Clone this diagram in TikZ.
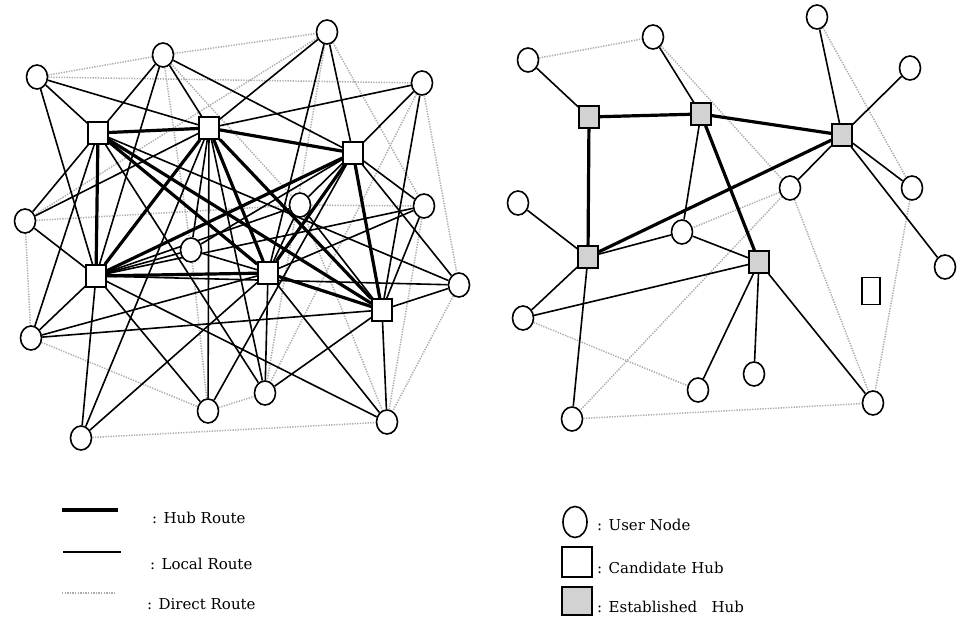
\documentclass[tikz,border=0pt]{standalone}
\usepackage{fontspec}
\setmainfont{DejaVu Serif}
\usetikzlibrary{shapes.geometric,backgrounds}
\begin{document}
\begin{tikzpicture}[x=1pt,y=-1pt,
  user/.style={ellipse, draw, line width=1.6pt, fill=white, minimum width=21pt, minimum height=24pt, inner sep=0pt},
  cand/.style={rectangle, draw, line width=1.6pt, fill=white, minimum width=20pt, minimum height=22pt, inner sep=0pt},
  estab/.style={cand, fill=gray!35},
  hubroute/.style={line width=3.2pt},
  localroute/.style={line width=1.6pt},
  directroute/.style={line width=1.5pt, gray!65, dash pattern=on 1.3pt off 1.3pt},
  lbl/.style={anchor=west, inner sep=0pt, font=\fontsize{15}{18}\selectfont}]
\useasboundingbox (0,0) rectangle (961,621);

% ---------- left network ----------
\node[user] (c1) at (37,77) {};
\node[user] (c2) at (163,55) {};
\node[user] (c3) at (327,32) {};
\node[user] (c4) at (422,83) {};
\node[user] (c5) at (25,221) {};
\node[user] (c6) at (300,205) {};
\node[user] (c7) at (424,206) {};
\node[user] (c8) at (191,250) {};
\node[user] (c9) at (459,285) {};
\node[user] (c10) at (31,338) {};
\node[user] (c11) at (208,411) {};
\node[user] (c12) at (265,393) {};
\node[user] (c13) at (81,438) {};
\node[user] (c14) at (387,422) {};
\node[cand] (s1) at (98,133) {};
\node[cand] (s2) at (209,128) {};
\node[cand] (s3) at (353,153) {};
\node[cand] (s4) at (96,276) {};
\node[cand] (s5) at (268,273) {};
\node[cand] (s6) at (382,310) {};

% ---------- right network ----------
\node[user] (r1) at (528,60) {};
\node[user] (r2) at (653,37) {};
\node[user] (r3) at (817,17) {};
\node[user] (r4) at (910,68) {};
\node[user] (r5) at (518,203) {};
\node[user] (r6) at (790,188) {};
\node[user] (r7) at (912,188) {};
\node[user] (r8) at (682,232) {};
\node[user] (r9) at (945,267) {};
\node[user] (r10) at (523,318) {};
\node[user] (r11) at (698,390) {};
\node[user] (r12) at (754,374) {};
\node[user] (r13) at (572,419) {};
\node[user] (r14) at (873,403) {};
\node[estab] (g1) at (589,117) {};
\node[estab] (g2) at (701,114) {};
\node[estab] (g3) at (842,135) {};
\node[estab] (g4) at (588,257) {};
\node[estab] (g5) at (759,262) {};
\node[cand, minimum width=18pt, minimum height=27pt] (w1) at (871,291) {};

\begin{pgfonlayer}{background}
% left: direct routes
\foreach \a/\b in {c1/c2,c1/c4,c2/c3,c2/c8,c2/c6,c3/c5,c3/c7,c3/c12,c4/c9,c4/c12,c5/c6,c6/c7,c5/c10,c10/c11,c8/c11,c11/c12,c13/c14,c9/c14,c7/c14,c6/c14}
  \draw[directroute] (\a) -- (\b);
% left: local routes
\foreach \a/\b in {c1/s1,c1/s2,c1/s4,
  c2/s1,c2/s2,c2/s3,c2/s4,
  c3/s2,c3/s3,c3/s5,
  c4/s2,c4/s3,c4/s6,
  c5/s1,c5/s2,c5/s4,
  c6/s3,c6/s4,c6/s5,c6/s6,
  c7/s3,c7/s4,c7/s5,c7/s6,
  c8/s2,c8/s3,c8/s4,c8/s5,
  c9/s1,c9/s3,c9/s4,c9/s6,
  c10/s1,c10/s4,c10/s5,c10/s6,
  c11/s2,c11/s3,c11/s4,
  c12/s1,c12/s2,c12/s5,c12/s6,
  c13/s2,c13/s4,c13/s5,
  c14/s4,c14/s5,c14/s6}
  \draw[localroute] (\a) -- (\b);
% left: hub routes
\foreach \a/\b in {s1/s2,s2/s3,s1/s4,s1/s5,s1/s6,s2/s4,s2/s5,s2/s6,s3/s4,s3/s5,s3/s6,s4/s5,s5/s6}
  \draw[hubroute] (\a) -- (\b);

% right: direct routes
\foreach \a/\b in {r1/r2,r2/r6,r3/r7,r6/r8,r6/r13,r6/r14,r7/r14,r13/r14,r10/r11}
  \draw[directroute] (\a) -- (\b);
% right: local routes
\foreach \a/\b in {r1/g1,r2/g2,g2/r8,r3/g3,r4/g3,g3/r6,g3/r7,g3/r9,r5/g4,g4/r8,g4/r10,g4/r13,r10/g5,r8/g5,g5/r11,g5/r12,g5/r14}
  \draw[localroute] (\a) -- (\b);
% right: hub routes
\foreach \a/\b in {g1/g2,g2/g3,g1/g4,g4/g3,g2/g5}
  \draw[hubroute] (\a) -- (\b);
\end{pgfonlayer}

% ---------- legend ----------
\coordinate (h1) at (62,510); \coordinate (h2) at (118,510);
\coordinate (l1) at (63,552); \coordinate (l2) at (121,552);
\coordinate (d1) at (62,593); \coordinate (d2) at (116,593);
\draw[hubroute] (h1) -- (h2);
\draw[localroute] (l1) -- (l2);
\draw[directroute] (d1) -- (d2);
\node[lbl] (th) at (152,518) {: Hub Route};
\node[lbl] (tl) at (150,564) {: Local Route};
\node[lbl] (td) at (147,604) {: Direct Route};

\node[user, minimum width=24pt, minimum height=31pt] (ku) at (575,522) {};
\node[cand, minimum width=30pt, minimum height=30pt] (kc) at (577,562) {};
\node[estab, minimum width=30pt, minimum height=28pt] (ke) at (577,601) {};
\node[lbl] (tu) at (597,525) {: User Node};
\node[lbl] (tc) at (597,568) {: Candidate Hub};
\node[lbl] (te) at (597,607) {: Established\ \ \ Hub};
\end{tikzpicture}
\end{document}
